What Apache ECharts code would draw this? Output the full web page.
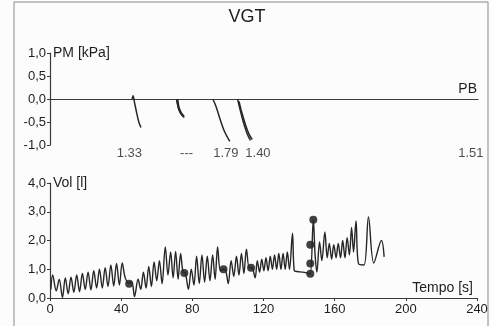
<!DOCTYPE html>
<html>
<head>
<meta charset="utf-8">
<script src="https://cdn.jsdelivr.net/npm/echarts@6/dist/echarts.min.js"></script>
<style>
  html, body { margin: 0; padding: 0; background: #fcfcfc; }
  #chart { width: 491px; height: 326px; }
</style>
</head>
<body>
<div id="chart"></div>
<script>
// time ticks
const timeTicks = [0, 40, 80, 120, 160, 200, 240];

// PM curves [t, kPa]
const pm1 = [[46, 0], [46.6, 0.07], [47.4, -0.08], [48.6, -0.3], [49.8, -0.5], [51, -0.62]];
const pm2 = [[71, 0], [71.6, -0.12], [72.8, -0.26], [74, -0.34], [75.3, -0.4]];
const pm2b = [[71.4, -0.02], [72.2, -0.2], [73.6, -0.32], [75, -0.38]];
const pm3 = [[91.3, 0], [93, -0.15], [95.2, -0.42], [97.8, -0.7], [100.8, -0.92]];
const pm4 = [[105.2, 0], [106.4, -0.2], [108.4, -0.5], [110.6, -0.76], [112.4, -0.9]];
const pm4b = [[106, -0.05], [107.6, -0.3], [109.8, -0.58], [111.8, -0.78], [113.4, -0.88]];

// PB values under the pressure trace
const pbLabels = ["1.33", "---", "1.79", "1.40", "1.51"];
const pbTimes = [44.5, 76.6, 98.6, 116.6, 236];

// Vol trace [t, l]
const vol = [
  [0.5, 0.3], [1.5, 0.8], [3.5, 0.25], [5.2, 0.65], [7.0, 0.02], [8.6, 0.7],
  [10.2, 0.15], [11.8, 0.72], [13.4, 0.2], [15.0, 0.8], [16.6, 0.22], [18.2, 0.85],
  [19.8, 0.3], [21.4, 0.9], [23.0, 0.28], [24.6, 0.95], [26.2, 0.35], [27.8, 1.0],
  [29.4, 0.35], [31.0, 1.05], [32.6, 0.4], [34.2, 1.15], [35.8, 0.42], [37.4, 1.2],
  [39.0, 0.45], [40.6, 1.22], [42.3, 0.7], [44.5, 0.52], [46.0, 0.55], [47.5, 0.05],
  [49.5, 0.65], [51.0, 0.3], [52.5, 0.9], [54.0, 0.35], [55.5, 1.1], [57.0, 0.4],
  [58.5, 1.25], [60.0, 0.6], [61.5, 1.3], [63.0, 0.5], [64.8, 1.78], [66.3, 0.8],
  [67.8, 1.6], [69.2, 0.7], [70.6, 1.62], [72.0, 0.65], [73.4, 1.55], [74.8, 0.9],
  [76.0, 0.88], [77.8, 0.3], [79.4, 1.0], [80.9, 0.45], [82.4, 1.45], [83.9, 0.5],
  [85.4, 1.5], [86.9, 0.55], [88.4, 1.45], [89.9, 0.6], [91.4, 1.5], [92.8, 0.65],
  [94.2, 1.78], [95.8, 0.95], [97.5, 1.0], [98.8, 0.95], [100.2, 0.5], [101.8, 1.3],
  [103.3, 0.75], [104.8, 1.45], [106.2, 0.8], [107.6, 1.55], [109.0, 0.85], [110.4, 1.7],
  [112.0, 1.05], [113.5, 1.05], [115.3, 0.7], [116.5, 1.3], [117.8, 0.9], [119.0, 1.35],
  [120.2, 0.95], [121.4, 1.4], [122.6, 0.95], [123.8, 1.45], [125.0, 1.0], [126.2, 1.5],
  [127.4, 1.0], [128.6, 1.55], [129.8, 1.0], [131.0, 1.55], [132.2, 1.0], [133.4, 1.6],
  [134.6, 1.0], [136.3, 2.25], [137.3, 0.95], [139.0, 0.92], [142.0, 0.9], [145.0, 0.86],
  [146.3, 0.84], [148.0, 2.72], [149.0, 1.5], [150.0, 0.9], [151.5, 1.95], [152.8, 1.3],
  [154.5, 2.3], [155.8, 1.4], [157.0, 1.9], [158.3, 1.35], [159.5, 1.85], [160.8, 1.4],
  [162.0, 1.9], [163.3, 1.4], [164.5, 2.0], [165.8, 1.4], [167.0, 2.1], [168.3, 1.5],
  [169.5, 2.45], [170.6, 1.6], [172.0, 2.68], [173.5, 1.18], [176.5, 1.15], [179.0, 2.82],
  [182.0, 1.22], [186.3, 2.0], [187.8, 1.43]
];

// black event dots on Vol
const dotT = [44.5, 75.5, 97.5, 113, 146.3, 146.3, 146.3, 148];
const dotV = [0.5, 0.87, 1.0, 1.05, 0.84, 1.2, 1.85, 2.72];

const comma = (v) => v.toFixed(1).replace(".", ",");
const ink = "#262626";
const font = "Liberation Sans, Arial";
const tickTxt = { color: "#1e1e1e", fontSize: 13, fontFamily: font };
const nameTxt = { color: "#1e1e1e", fontSize: 14, fontFamily: font };

const chart = echarts.init(document.getElementById("chart"));

const pmLine = (data, width = 1.5) => ({
  type: "line",
  xAxisIndex: 0,
  yAxisIndex: 0,
  data,
  smooth: 0.3,
  showSymbol: false,
  lineStyle: { color: ink, width },
});

chart.setOption({
  animation: false,
  backgroundColor: "#fcfcfc",
  title: {
    text: "VGT",
    left: 242,
    top: 3,
    textAlign: "center",
    textStyle: { fontSize: 18, fontWeight: "normal", color: "#1e1e1e", fontFamily: font },
  },
  graphic: [
    {
      type: "rect",
      shape: { x: 14, y: 2, width: 474, height: 330 },
      style: { fill: "none", stroke: "#888", lineWidth: 1 },
      silent: true,
    },
  ],
  grid: [
    { left: 50, right: 13, top: 53, height: 92 },
    { left: 50, right: 14, top: 183, height: 115 },
  ],
  xAxis: [
    {
      gridIndex: 0,
      type: "value",
      min: 0,
      max: 240,
      interval: 40,
      axisLine: { onZero: true, lineStyle: { color: "#3a3a3a", width: 1.2 } },
      axisTick: { show: false },
      axisLabel: { show: false },
      splitLine: { show: false },
      name: "PB",
      nameLocation: "end",
      nameGap: -1,
      nameTextStyle: { ...nameTxt, align: "right", verticalAlign: "bottom", padding: [0, 0, 3, 0] },
    },
    {
      gridIndex: 1,
      type: "value",
      min: 0,
      max: 240,
      interval: 40,
      axisLine: { lineStyle: { color: "#3a3a3a", width: 1.2 } },
      axisTick: { show: true, length: 3, lineStyle: { color: "#3a3a3a" } },
      axisLabel: { ...tickTxt, margin: 5 },
      splitLine: { show: false },
      name: "Tempo [s]",
      nameLocation: "end",
      nameGap: -4,
      nameTextStyle: { ...nameTxt, align: "right", verticalAlign: "bottom", padding: [0, 0, 3, 0] },
    },
  ],
  yAxis: [
    {
      gridIndex: 0,
      type: "value",
      min: -1,
      max: 1,
      interval: 0.5,
      axisLine: { show: true, lineStyle: { color: "#3a3a3a", width: 1.2 } },
      axisTick: { show: true, length: 3, lineStyle: { color: "#3a3a3a" } },
      axisLabel: { ...tickTxt, margin: 4, formatter: comma },
      splitLine: { show: false },
      name: "PM [kPa]",
      nameLocation: "end",
      nameGap: 0,
      nameTextStyle: { ...nameTxt, align: "left", verticalAlign: "middle", padding: [0, 0, 0, 3] },
    },
    {
      gridIndex: 1,
      type: "value",
      min: 0,
      max: 4,
      interval: 1,
      axisLine: { show: true, lineStyle: { color: "#3a3a3a", width: 1.2 } },
      axisTick: { show: true, length: 3, lineStyle: { color: "#3a3a3a" } },
      axisLabel: { ...tickTxt, margin: 4, formatter: comma },
      splitLine: { show: false },
      name: "Vol [l]",
      nameLocation: "end",
      nameGap: 0,
      nameTextStyle: { ...nameTxt, align: "left", verticalAlign: "middle", padding: [0, 0, 0, 3] },
    },
  ],
  series: [
    pmLine(pm1),
    pmLine(pm2),
    pmLine(pm2b, 2.4),
    pmLine(pm3),
    pmLine(pm4),
    pmLine(pm4b),
    {
      type: "scatter",
      xAxisIndex: 0,
      yAxisIndex: 0,
      data: pbTimes.map((t, i) => ({ value: [t, -1], name: pbLabels[i] })),
      symbolSize: 0,
      label: {
        show: true,
        position: "bottom",
        distance: 2,
        formatter: (p) => p.name,
        ...tickTxt,
      },
      clip: false,
    },
    {
      type: "line",
      xAxisIndex: 1,
      yAxisIndex: 1,
      data: vol,
      smooth: 0.35,
      showSymbol: false,
      lineStyle: { color: ink, width: 1.4 },
    },
    {
      type: "scatter",
      xAxisIndex: 1,
      yAxisIndex: 1,
      data: dotT.map((t, i) => [t, dotV[i]]),
      symbolSize: 8,
      itemStyle: { color: "#111" },
    },
  ],
});
</script>
</body>
</html>
